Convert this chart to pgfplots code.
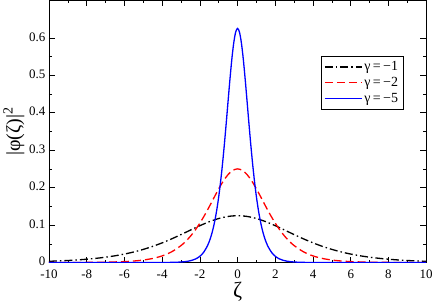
\documentclass[border=0pt]{standalone}
\usepackage{fontspec}
\setmainfont{Liberation Serif}
\usepackage{pgfplots}
\pgfplotsset{compat=1.18}
\begin{document}
\begin{tikzpicture}[x=1bp,y=1bp]
\begin{axis}[
  scale only axis,
  width=377bp, height=262bp,
  xmin=-10, xmax=10, ymin=0, ymax=0.7,
  xtick={-10,-8,...,10},
  ytick={0,0.1,0.2,0.3,0.4,0.5,0.6},
  minor x tick num=1, minor y tick num=1,
  tick align=inside,
  major tick length=6bp, minor tick length=3bp,
  tick style={black, line width=0.5pt},
  axis line style={line width=0.7pt},
  /pgf/number format/assume math mode=true,
  /pgf/number format/fixed,
  /pgf/number format/precision=1,
  yticklabel style={font=\fontsize{13}{13}\selectfont, /pgf/number format/fixed zerofill=false, yshift=1bp},
  xticklabel style={font=\fontsize{13}{13}\selectfont, yshift=-3.5bp},
  xlabel={\fontsize{22}{22}\selectfont ζ},
  ylabel={\fontsize{20}{20}\selectfont |φ(ζ)|$^{\mathrm{2}}$},
  xlabel style={yshift=3bp},
  ylabel style={yshift=-2bp},
  legend cell align=left,
  legend style={at={(0.939,0.786)}, anchor=north east, font=\fontsize{14}{15}\selectfont, inner sep=3bp, row sep=1bp},
  legend image code/.code={\draw[#1] (0bp,0bp) -- (37bp,0bp);},
]
\addplot[black, line width=1.3pt, dash pattern=on 8bp off 3bp on 1.5bp off 3bp, smooth] coordinates {
(-10,0.00332)(-9.5,0.00425)(-9,0.00543)(-8.5,0.00693)(-8,0.00883)(-7.5,0.01123)(-7,0.01423)(-6.5,0.01797)(-6,0.02259)(-5.5,0.02824)(-5,0.03505)(-4.5,0.04314)(-4,0.05250)(-3.5,0.06306)(-3,0.07457)(-2.5,0.08655)(-2,0.09831)(-1.5,0.10895)(-1,0.11750)(-0.5,0.12307)(0,0.125)
(0.5,0.12307)(1,0.11750)(1.5,0.10895)(2,0.09831)(2.5,0.08655)(3,0.07457)(3.5,0.06306)(4,0.05250)(4.5,0.04314)(5,0.03505)(5.5,0.02824)(6,0.02259)(6.5,0.01797)(7,0.01423)(7.5,0.01123)(8,0.00883)(8.5,0.00693)(9,0.00543)(9.5,0.00425)(10,0.00332)
};
\addlegendentry{γ\,=\,−1}
\addplot[red, line width=1.3pt, dash pattern=on 8bp off 4bp, smooth] coordinates {
(-10,0.00005)(-9,0.00012)(-8,0.00034)(-7,0.00091)(-6,0.00247)(-5.5,0.00405)(-5,0.00665)(-4.5,0.01087)(-4,0.01766)(-3.5,0.02845)(-3,0.04518)(-2.75,0.05648)(-2.5,0.07010)(-2.25,0.08627)(-2,0.10499)(-1.75,0.12613)(-1.5,0.14915)(-1.25,0.17311)(-1,0.19661)(-0.75,0.21790)(-0.5,0.23500)(-0.25,0.24614)(0,0.25)
(0.25,0.24614)(0.5,0.23500)(0.75,0.21790)(1,0.19661)(1.25,0.17311)(1.5,0.14915)(1.75,0.12613)(2,0.10499)(2.25,0.08627)(2.5,0.07010)(2.75,0.05648)(3,0.04518)(3.5,0.02845)(4,0.01766)(4.5,0.01087)(5,0.00665)(5.5,0.00405)(6,0.00247)(7,0.00091)(8,0.00034)(9,0.00012)(10,0.00005)
};
\addlegendentry{γ\,=\,−2}
\addplot[blue, line width=1.3pt, smooth] coordinates {
(-10,0)(-5,0.00001)(-4,0.00011)(-3.4,0.00051)(-3,0.00138)(-2.8,0.00228)(-2.6,0.00375)(-2.4,0.00617)(-2.2,0.01013)(-2,0.01662)(-1.8,0.02717)(-1.6,0.04416)(-1.5,0.05613)(-1.4,0.07113)(-1.3,0.08983)(-1.2,0.11294)(-1.1,0.14119)(-1,0.17526)(-0.9,0.21568)(-0.8,0.26248)(-0.7,0.31532)(-0.6,0.37287)(-0.5,0.43277)(-0.4,0.49153)(-0.3,0.54474)(-0.2,0.58751)(-0.1,0.61534)(0,0.625)
(0.1,0.61534)(0.2,0.58751)(0.3,0.54474)(0.4,0.49153)(0.5,0.43277)(0.6,0.37287)(0.7,0.31532)(0.8,0.26248)(0.9,0.21568)(1,0.17526)(1.1,0.14119)(1.2,0.11294)(1.3,0.08983)(1.4,0.07113)(1.5,0.05613)(1.6,0.04416)(1.8,0.02717)(2,0.01662)(2.2,0.01013)(2.4,0.00617)(2.6,0.00375)(2.8,0.00228)(3,0.00138)(3.4,0.00051)(4,0.00011)(5,0.00001)(10,0)
};
\addlegendentry{γ\,=\,−5}
\end{axis}
\end{tikzpicture}
\end{document}
